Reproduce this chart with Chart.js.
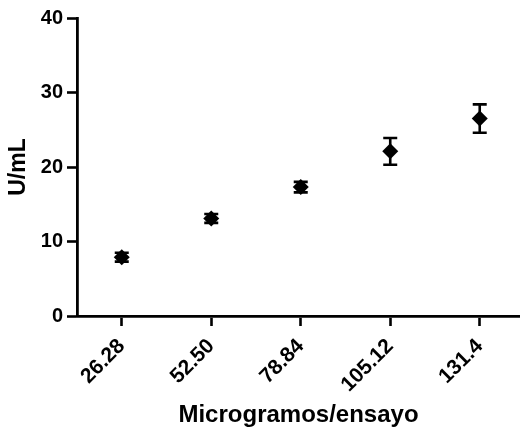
<!DOCTYPE html>
<html>
<head>
<meta charset="utf-8">
<script src="https://cdn.jsdelivr.net/npm/chart.js@4/dist/chart.umd.min.js"></script>
<style>
  html, body { margin: 0; padding: 0; background: #ffffff; }
  #wrap { width: 520px; height: 431px; position: relative; }
</style>
</head>
<body>
<div id="wrap"><canvas id="c" width="520" height="431"></canvas></div>
<script>
const categories = ['26.28', '52.50', '78.84', '105.12', '131.4'];
const means = [7.9, 13.1, 17.3, 22.1, 26.5];
const errors = [0.6, 0.6, 0.7, 1.8, 1.9];
const yTicks = [0, 10, 20, 30, 40];

const FONT = '"Liberation Sans", Arial, sans-serif';

const errorBarPlugin = {
  id: 'errorBars',
  afterDatasetsDraw(chart) {
    const ctx = chart.ctx;
    const xs = chart.scales.x, ys = chart.scales.y;
    ctx.save();
    ctx.strokeStyle = '#000';
    ctx.lineWidth = 2.6;
    ctx.lineCap = 'butt';
    means.forEach((m, i) => {
      const px = xs.getPixelForValue(i + 1);
      const top = ys.getPixelForValue(m + errors[i]);
      const bot = ys.getPixelForValue(m - errors[i]);
      const hw = 7;
      ctx.beginPath();
      ctx.moveTo(px, top); ctx.lineTo(px, bot);
      ctx.moveTo(px - hw, top); ctx.lineTo(px + hw, top);
      ctx.moveTo(px - hw, bot); ctx.lineTo(px + hw, bot);
      ctx.stroke();
    });
    ctx.restore();
  }
};

function zeroMargins(s) {
  s.paddingLeft = 0; s.paddingRight = 0; s.paddingTop = 0; s.paddingBottom = 0;
}

new Chart(document.getElementById('c'), {
  type: 'scatter',
  data: {
    datasets: [{
      data: means.map((v, i) => ({ x: i + 1, y: v })),
      pointStyle: 'rectRot',
      pointRadius: 8,
      pointHoverRadius: 8,
      backgroundColor: '#000',
      borderColor: '#000',
      borderWidth: 0,
      clip: false
    }]
  },
  options: {
    responsive: false,
    animation: false,
    devicePixelRatio: 1,
    layout: { autoPadding: false, padding: { top: 18, right: 0, left: 0, bottom: 0 } },
    plugins: { legend: { display: false }, tooltip: { enabled: false } },
    scales: {
      x: {
        type: 'linear',
        min: 0.5,
        max: 5.45,
        afterBuildTicks: (s) => { s.ticks = categories.map((c, i) => ({ value: i + 1 })); },
        afterFit: (s) => { s.height = 115; zeroMargins(s); },
        grid: { drawOnChartArea: false, drawTicks: true, tickLength: 10, tickWidth: 2.6, tickColor: '#000' },
        border: { display: true, color: '#000', width: 2.8 },
        ticks: {
          callback: (v) => categories[v - 1],
          minRotation: 45, maxRotation: 45,
          padding: 8,
          color: '#000',
          font: { family: FONT, size: 21, weight: 'bold' }
        },
        title: {
          display: true,
          text: 'Microgramos/ensayo',
          color: '#000',
          font: { family: FONT, size: 24, weight: 'bold' },
          padding: { top: 0, bottom: 1 }
        }
      },
      y: {
        min: 0, max: 40,
        afterBuildTicks: (s) => { s.ticks = yTicks.map(v => ({ value: v })); },
        afterFit: (s) => { s.width = 77; zeroMargins(s); },
        grid: { drawOnChartArea: false, drawTicks: true, tickLength: 10, tickWidth: 2.6, tickColor: '#000' },
        border: { display: true, color: '#000', width: 2.8 },
        ticks: {
          padding: 4,
          color: '#000',
          font: { family: FONT, size: 20, weight: 'bold' }
        },
        title: {
          display: true,
          text: 'U/mL',
          color: '#000',
          font: { family: FONT, size: 23, weight: 'bold' },
          padding: { top: 5, bottom: 0 }
        }
      }
    }
  },
  plugins: [errorBarPlugin]
});
</script>
</body>
</html>
